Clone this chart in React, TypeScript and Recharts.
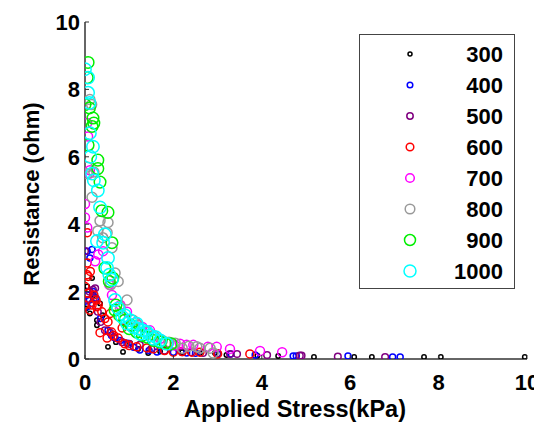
import React from "react";
import { ScatterChart, Scatter, XAxis, YAxis, Legend, Label } from "recharts";

// stress (kPa), resistance (ohm) pairs
const s300: [number, number][] = [
  [0.05, 2.15], [0.16, 2.4], [0.11, 1.35], [0.27, 1.15], [0.27, 1.0], [0.34, 1.65],
  [0.52, 0.36], [0.86, 0.21], [1.02, 0.47], [1.43, 0.18], [2.94, 0.18], [4.37, 0.09],
  [5.18, 0.06], [6.09, 0.06], [6.49, 0.06], [7.67, 0.06], [8.05, 0.06], [9.95, 0.06],
  [0.02, 1.5], [0.2, 1.9], [0.4, 1.3], [0.7, 0.5], [1.2, 0.3], [1.7, 0.22],
  [2.2, 0.2], [2.6, 0.17], [3.2, 0.12], [3.9, 0.1],
];
const s400: [number, number][] = [
  [0.05, 3.2], [0.16, 3.25], [0.11, 3.0], [0.05, 1.9], [0.18, 2.0], [0.05, 1.55],
  [0.52, 0.85], [0.68, 0.62], [0.95, 0.47], [1.24, 0.27], [1.63, 0.21], [2.3, 0.18],
  [3.85, 0.12], [4.71, 0.09], [4.78, 0.09], [5.95, 0.09], [6.96, 0.06], [7.13, 0.06],
  [0.1, 1.75], [0.15, 1.65], [0.25, 1.8], [0.35, 1.2], [0.6, 0.7], [0.8, 0.55],
  [1.1, 0.35], [1.45, 0.25], [2.0, 0.2], [2.5, 0.17], [3.0, 0.15], [3.3, 0.15],
];
const s500: [number, number][] = [
  [0.0, 3.2], [0.18, 2.05], [0.23, 2.1], [0.07, 1.75], [0.29, 1.4], [0.45, 0.85],
  [0.57, 0.78], [0.84, 0.5], [1.24, 0.42], [2.67, 0.18], [3.28, 0.15], [3.44, 0.15],
  [4.12, 0.12], [4.86, 0.1], [4.9, 0.1], [5.72, 0.07], [6.79, 0.06],
  [0.1, 2.0], [0.2, 1.8], [0.35, 1.1], [0.65, 0.65], [1.0, 0.45], [1.5, 0.3],
  [1.8, 0.25], [2.2, 0.2], [2.4, 0.2], [3.0, 0.17],
];
const s600: [number, number][] = [
  [0.05, 3.75], [0.05, 2.85], [0.05, 2.5], [0.07, 2.45], [0.0, 2.15], [0.07, 1.95],
  [0.0, 1.6], [0.16, 1.6], [0.27, 1.55], [0.11, 1.45], [0.38, 1.4], [0.52, 1.1],
  [0.57, 1.35], [0.34, 0.78], [0.5, 0.62], [0.75, 0.62], [0.84, 0.92], [1.17, 0.36],
  [1.4, 0.33], [2.0, 0.2], [2.42, 0.2], [3.0, 0.15], [3.73, 0.15],
  [0.12, 2.6], [0.2, 1.9], [0.25, 1.75], [0.3, 1.6], [0.45, 1.2], [0.6, 0.8],
  [0.65, 0.7], [0.9, 0.45], [1.0, 0.4], [1.55, 0.3], [1.8, 0.25], [2.2, 0.22], [2.6, 0.2],
];
const s700: [number, number][] = [
  [0.05, 7.0], [0.07, 6.6], [0.11, 5.6], [0.0, 4.6], [0.0, 4.2], [0.05, 3.9],
  [0.41, 3.2], [0.23, 2.9], [0.61, 1.9], [0.95, 1.4], [1.47, 0.85], [2.04, 0.4],
  [2.3, 0.42], [2.45, 0.42], [2.78, 0.36], [2.98, 0.36], [3.28, 0.3], [3.96, 0.24],
  [4.46, 0.2], [0.3, 3.1], [0.55, 2.2], [0.8, 1.6], [1.15, 1.1], [1.3, 0.95],
  [1.7, 0.6], [1.9, 0.5], [2.15, 0.45], [0.1, 5.5],
];
const s800: [number, number][] = [
  [0.11, 7.7], [0.05, 5.5], [0.05, 5.7], [0.16, 4.8], [0.34, 4.1], [0.52, 4.05],
  [0.29, 3.8], [0.5, 3.75], [0.61, 3.3], [0.68, 2.55], [0.75, 2.3], [0.95, 1.75],
  [1.09, 1.15], [1.4, 0.8], [2.04, 0.47], [2.2, 0.32], [2.53, 0.36], [2.6, 0.32],
  [2.83, 0.32], [2.9, 0.18], [0.2, 5.55], [0.4, 3.6], [0.8, 1.5], [1.2, 1.0],
  [1.55, 0.7], [1.75, 0.55], [0.15, 7.55], [0.58, 2.2], [1.9, 0.5], [2.35, 0.38],
];
const s900: [number, number][] = [
  [0.07, 8.8], [0.05, 8.35], [0.0, 7.55], [0.18, 7.15], [0.16, 6.9], [0.07, 6.35],
  [0.29, 5.9], [0.29, 5.65], [0.34, 5.25], [0.38, 4.4], [0.52, 4.35], [0.61, 3.45],
  [0.45, 2.7], [0.63, 2.4], [0.68, 1.45], [0.9, 1.15], [1.17, 0.8], [1.4, 0.65],
  [1.81, 0.47], [0.78, 1.3], [1.0, 0.9], [1.05, 1.0], [1.3, 0.7], [1.55, 0.55],
  [1.7, 0.5], [1.95, 0.45], [0.55, 2.3], [0.7, 1.6], [0.1, 7.45], [0.2, 7.0],
];
const s1000: [number, number][] = [
  [0.0, 8.6], [0.07, 8.35], [0.07, 7.9], [0.11, 6.7], [0.18, 6.3], [0.16, 5.5],
  [0.29, 5.0], [0.34, 4.5], [0.27, 3.5], [0.41, 3.45], [0.52, 3.0], [0.61, 2.35],
  [0.68, 1.75], [0.84, 1.25], [1.02, 1.15], [1.17, 1.05], [1.31, 0.85], [1.47, 0.7],
  [1.7, 0.55], [1.85, 0.45], [0.75, 1.5], [0.9, 1.3], [0.95, 1.05], [1.1, 0.95],
  [1.2, 0.9], [1.25, 0.75], [1.4, 0.8], [1.55, 0.6], [1.6, 0.65], [0.5, 2.7],
  [0.55, 2.5], [0.45, 3.7], [0.2, 5.3], [0.1, 7.6], [0.12, 6.0],
];

const seriesNames = ["300", "400", "500", "600", "700", "800", "900", "1000"];
const seriesData = [s300, s400, s500, s600, s700, s800, s900, s1000];
const colors = ["#000000", "#0000ff", "#800080", "#ff0000", "#ff00ff", "#999999", "#00ee00", "#00ffff"];
const radii = [2.2, 3, 3.3, 4, 4.5, 5, 5.8, 6.2];
const legendRadii = [2, 2.8, 3.2, 3.8, 4.3, 4.8, 5.5, 6];
const ticks = [0, 2, 4, 6, 8, 10];

const font = "'Liberation Sans', Arial, sans-serif";

const XTick = ({ x, y, payload }: any) => (
  <g>
    <line x1={x} y1={y} x2={x} y2={y - 4} stroke="#333" />
    <text x={x} y={y + 31} textAnchor="middle" fontFamily={font} fontWeight="bold" fontSize={22} fill="#000">
      {payload.value}
    </text>
  </g>
);

const YTick = ({ x, y, payload }: any) => (
  <g>
    <line x1={x} y1={y} x2={x + 4} y2={y} stroke="#333" />
    <text x={x - 5} y={y + 8} textAnchor="end" fontFamily={font} fontWeight="bold" fontSize={22} fill="#000">
      {payload.value}
    </text>
  </g>
);

const LegendBox = () => (
  <div
    style={{
      width: 154,
      height: 253,
      border: "1px solid #444",
      background: "#fff",
      position: "relative",
    }}
  >
    {seriesNames.map((n, i) => (
      <div key={n} style={{ position: "absolute", top: 19 + i * 31 - 15, left: 0, width: 154, height: 30 }}>
        <svg width={154} height={30} style={{ position: "absolute", left: 0, top: 0 }}>
          <circle cx={50} cy={15} r={legendRadii[i]} fill="none" stroke={colors[i]} strokeWidth={1.5} />
          <text x={143} y={23} textAnchor="end" fontFamily={font} fontWeight="bold" fontSize={22} fill="#000">
            {n}
          </text>
        </svg>
      </div>
    ))}
  </div>
);

export default function App() {
  return (
    <ScatterChart width={534} height={415} margin={{ top: 14, right: 15, left: 0, bottom: 0 }}>
      <XAxis
        type="number"
        dataKey="x"
        domain={[0, 10]}
        ticks={ticks}
        height={64}
        tickSize={0}
        tickMargin={0}
        tickLine={false}
        tick={<XTick />}
        axisLine={{ stroke: "#333", strokeWidth: 1.5 }}
        allowDataOverflow
      >
        <Label
          content={() => (
            <text x={287} y={409} textAnchor="middle" fontFamily={font} fontWeight="bold" fontSize={23.5} fill="#000">
              Applied Stress(kPa)
            </text>
          )}
        />
      </XAxis>
      <YAxis
        type="number"
        dataKey="y"
        domain={[0, 10]}
        ticks={ticks}
        width={77}
        tickSize={0}
        tickMargin={0}
        tickLine={false}
        tick={<YTick />}
        axisLine={{ stroke: "#333", strokeWidth: 1.5 }}
        allowDataOverflow
      >
        <Label
          content={() => (
            <text
              x={31}
              y={186}
              transform="rotate(-90 31 186)"
              textAnchor="middle"
              fontFamily={font}
              fontWeight="bold"
              fontSize={22}
              fill="#000"
            >
              Resistance (ohm)
            </text>
          )}
        />
      </YAxis>
      <Legend
        layout="horizontal"
        align="center"
        verticalAlign="middle"
        content={<LegendBox />}
        wrapperStyle={{ top: 26, left: 351, width: 156, height: 255 }}
      />
      {seriesData.map((pts, i) => (
        <Scatter
          key={seriesNames[i]}
          name={seriesNames[i]}
          data={pts.map(([x, y]) => ({ x, y }))}
          isAnimationActive={false}
          shape={(p: any) => (
            <circle cx={p.cx} cy={p.cy} r={radii[i]} fill="none" stroke={colors[i]} strokeWidth={1.5} />
          )}
        />
      ))}
    </ScatterChart>
  );
}
